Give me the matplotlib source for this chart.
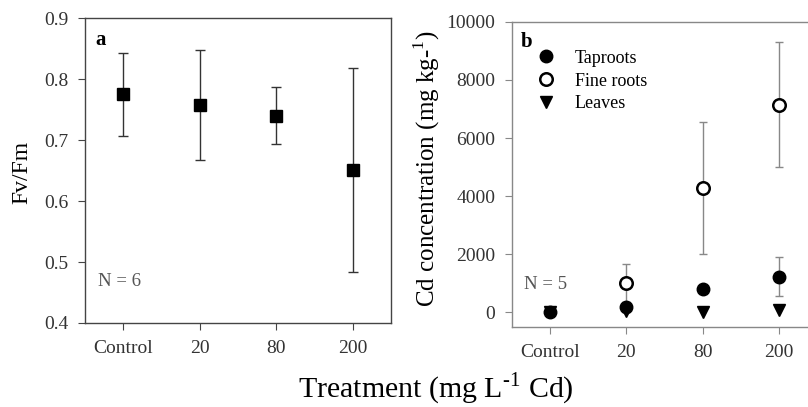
import matplotlib
matplotlib.use("Agg")
import matplotlib.pyplot as plt

plt.rcParams['font.family'] = ['Liberation Serif', 'DejaVu Serif']
plt.rcParams['mathtext.fontset'] = 'custom'
plt.rcParams['mathtext.rm'] = 'Liberation Serif'

treatments = ["Control", "20", "80", "200"]

# panel a: Fv/Fm
fvfm = [0.775, 0.757, 0.740, 0.651]
fvfm_err = [0.068, 0.090, 0.047, 0.168]

# panel b: Cd concentration (mg kg-1)
taproots = [0, 200, 800, 1230]
taproots_err = [0, 0, 0, 680]
fineroots = [0, 1000, 4280, 7150]
fineroots_err = [0, 650, 2260, 2150]
leaves = [0, 50, 20, 100]

x = list(range(len(treatments)))

fig = plt.figure(figsize=(8.08, 4.07), dpi=100)
ax1 = fig.add_axes([0.1052, 0.2064, 0.3787, 0.749])
ax2 = fig.add_axes([0.6337, 0.1966, 0.3775, 0.750])

grey = '#888888'

# ---- a ----
ax1.errorbar(x, fvfm, yerr=fvfm_err, fmt='s', color='black', ms=8,
             ecolor='#333333', elinewidth=1.0, capsize=3.5, capthick=1.0)
ax1.set_xlim(-0.5, 3.5)
ax1.set_ylim(0.4, 0.9)
ax1.set_yticks([0.4, 0.5, 0.6, 0.7, 0.8, 0.9])
ax1.set_yticklabels(["0.4", "0.5", "0.6", "0.7", "0.8", "0.9"])
ax1.set_xticks(x)
ax1.set_xticklabels(treatments)
ax1.set_ylabel("Fv/Fm", fontsize=17)
ax1.yaxis.set_label_coords(-0.173, 0.495)
ax1.text(0.035, 0.928, "a", transform=ax1.transAxes, fontsize=15,
         fontweight='bold', va='center')
ax1.text(0.043, 0.135, "N = 6", transform=ax1.transAxes, fontsize=13.5,
         color='#555555', va='center')
for s in ax1.spines.values():
    s.set_color('#444444')
    s.set_linewidth(1.0)
ax1.tick_params(direction='out', length=5, colors='#444444', labelsize=14,
                labelcolor='#333333', pad=7)

# ---- b ----
ax2.errorbar(x, fineroots, yerr=fineroots_err, fmt='none', ecolor=grey,
             elinewidth=1.0, capsize=3, capthick=1.0)
ax2.errorbar(x, taproots, yerr=taproots_err, fmt='none', ecolor=grey,
             elinewidth=1.0, capsize=3, capthick=1.0)
ax2.plot(x, leaves, 'v', color='black', ms=9, label='Leaves', zorder=3)
ax2.plot(x, taproots, 'o', color='black', ms=9, label='Taproots', zorder=4)
ax2.plot(x[1:], fineroots[1:], 'o', mfc='white', mec='black', mew=1.8, ms=9,
         label='Fine roots', zorder=5)
ax2.set_xlim(-0.5, 3.5)
ax2.set_ylim(-500, 10000)
ax2.set_yticks([0, 2000, 4000, 6000, 8000, 10000])
ax2.set_xticks(x)
ax2.set_xticklabels(treatments)
ax2.set_ylabel(r"Cd concentration (mg kg-$^{\text{1}}$)", fontsize=18)
ax2.yaxis.set_label_coords(-0.23, 0.52)
ax2.text(0.027, 0.933, "b", transform=ax2.transAxes, fontsize=15,
         fontweight='bold', va='center')
ax2.text(0.04, 0.14, "N = 5", transform=ax2.transAxes, fontsize=13.5,
         color='#555555', va='center')
h, l = ax2.get_legend_handles_labels()
order = [1, 2, 0]
ax2.legend([h[i] for i in order], [l[i] for i in order], loc='upper left',
           bbox_to_anchor=(0.022, 0.962), frameon=False, fontsize=13,
           handletextpad=1.0, labelspacing=0.33, handlelength=1.2)
for s in ax2.spines.values():
    s.set_color(grey)
    s.set_linewidth(1.0)
ax2.tick_params(direction='out', length=5, colors=grey, labelsize=14,
                labelcolor='#333333', pad=7)

fig.text(0.54, 0.022, r"Treatment (mg L$^{\text{-1}}$ Cd)", fontsize=21.5,
         ha='center')

fig.savefig("out.png", dpi=100)
